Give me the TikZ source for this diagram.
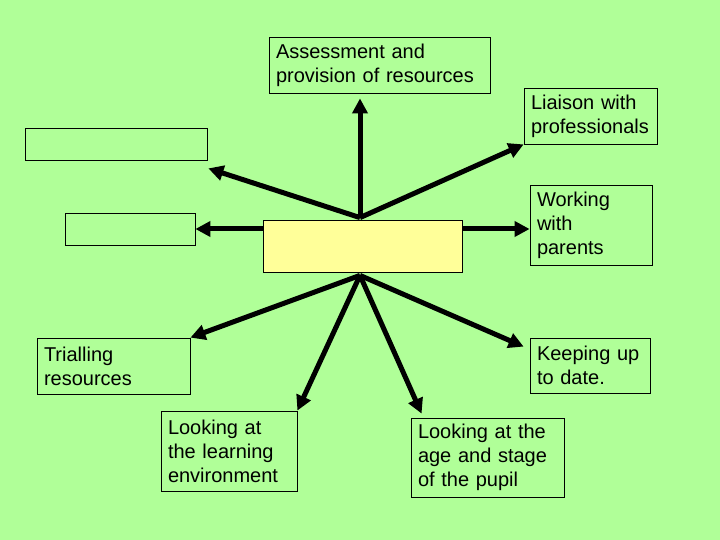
\documentclass[tikz,border=0pt]{standalone}
\usepackage{fontspec}
\setmainfont{Liberation Sans}
\usetikzlibrary{arrows.meta,positioning,calc}
\definecolor{bggreen}{HTML}{B0FF98}
\definecolor{hubyellow}{HTML}{FFFF99}
\begin{document}
\begin{tikzpicture}[
    x=1pt, y=-1pt,
    box/.style={draw, line width=0.8pt, fill=bggreen, inner xsep=7pt, inner ysep=0pt, align=left, font=\fontsize{20}{24}\selectfont},
    hub/.style={draw, line width=0.8pt, fill=hubyellow, minimum width=199pt, minimum height=52pt},
    arrow/.style={-{Triangle[length=15pt,width=15pt]}, line width=5pt}
]
\fill [bggreen] (0,0) rectangle (720,540);
\node (centre) [hub] at (362.5,246) {};
\node (assess) [box, text width=207pt, minimum height=56pt] at (379.5,65) {Assessment and\\provision of resources};
\node (liaison) [box, text width=119pt, minimum height=56pt] at (590.5,116) {Liaison with\\professionals};
\node (blankA) [box, text width=168pt, minimum height=32pt] at (116,144) {};
\node (blankB) [box, text width=116pt, minimum height=32pt] at (130,229) {};
\node (work) [box, text width=108pt, minimum height=80pt] at (591,225) {Working\\with\\parents};
\node (trial) [box, text width=139pt, minimum height=56pt] at (113.5,366) {Trialling\\resources};
\node (keep) [box, text width=106pt, minimum height=55pt] at (590,365.5) {Keeping up\\to date.};
\node (learn) [box, text width=122pt, minimum height=80pt] at (229,451) {Looking at\\the learning\\environment};
\node (age) [box, text width=139pt, minimum height=79pt] at (487.5,457.5) {Looking at the\\age and stage\\of the pupil};
\coordinate (hubT) at ($(centre.north)+(-2.5,-2)$);
\coordinate (hubB) at ($(centre.south)+(-2.5,3)$);
\draw [arrow] (hubT) -- ($(hubT |- assess.south)+(0,5)$);
\draw [arrow] (hubT) -- (liaison.south west);
\draw [arrow] (hubT) -- ($(blankA.south east)+(1,8)$);
\draw [arrow] (centre.west |- blankB.east) -- (blankB.east);
\draw [arrow] (centre.east |- blankB.east) -- (work.west |- blankB.east);
\draw [arrow] (hubB) -- (trial.north east);
\draw [arrow] (hubB) -- (learn.north east);
\draw [arrow] (hubB) -- ($(age.north west)+(11,-4)$);
\draw [arrow] (hubB) -- ($(keep.north west)+(-6,9)$);
\end{tikzpicture}
\end{document}
